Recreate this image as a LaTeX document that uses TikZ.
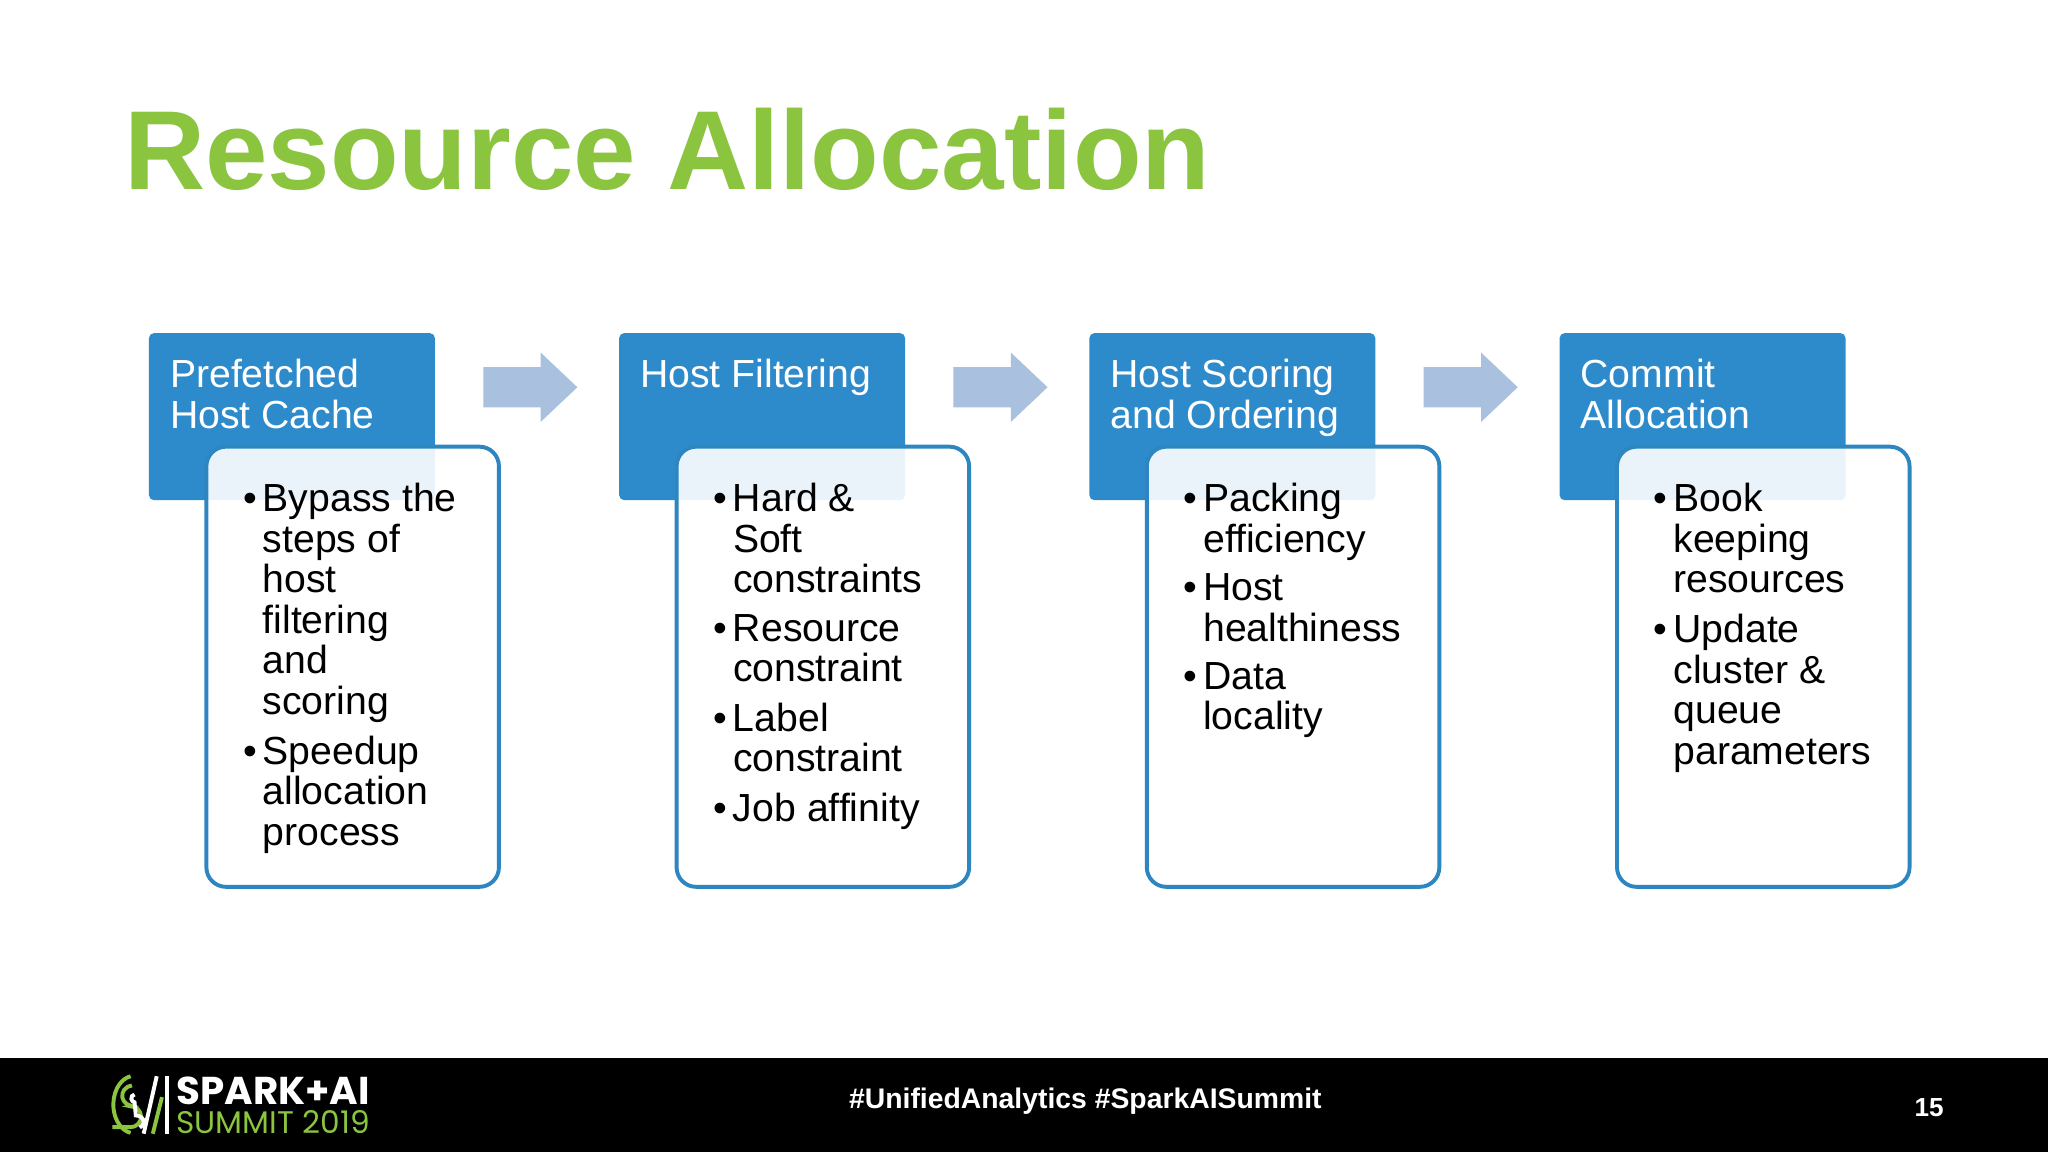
\documentclass[tikz,border=0pt]{standalone}
\usepackage{fontspec}
\setmainfont{Liberation Sans}
\newfontfamily\popp{Poppins}
\usetikzlibrary{shapes.arrows}
\definecolor{tgreen}{HTML}{8BC43F}
\definecolor{hblue}{HTML}{2E8BCB}
\definecolor{bblue}{HTML}{2E86C1}
\definecolor{ablue}{HTML}{A9C0DE}
\newcommand{\bitem}[1]{\makebox[15pt][l]{•}\parbox[t]{200pt}{#1\strut}\par\vspace{6pt}}
\begin{document}
\begin{tikzpicture}[x=1pt,y=1pt,
  hdr/.style={fill=hblue,rounded corners=4pt},
  wbox/.style={draw=bblue,line width=3pt,fill=white,fill opacity=0.9,rounded corners=15pt},
  htext/.style={anchor=base west,inner sep=0,text=white,font=\fontsize{30}{31}\selectfont},
  btext/.style={anchor=base west,inner sep=0,font=\fontsize{30}{31}\selectfont},
  barrow/.style={fill=ablue}]
\useasboundingbox (0,0) rectangle (1568,882);
\fill[white] (0,0) rectangle (1568,882);
\node[anchor=base west,inner sep=0,text=tgreen,font=\fontsize{86}{86}\selectfont\bfseries] (title) at (95,737) {Resource Allocation};
\foreach \i/\h/\b in {0/{Prefetched\\Host Cache}/{\bitem{Bypass the\\steps of\\host\\filtering\\and\\scoring}\bitem{Speedup\\allocation\\process}},
  1/{Host Filtering}/{\bitem{Hard \&\\Soft\\constraints}\bitem{Resource\\constraint}\bitem{Label\\constraint}\bitem{Job affinity}},
  2/{Host Scoring\\and Ordering}/{\bitem{Packing\\efficiency}\bitem{Host\\healthiness}\bitem{Data\\locality}},
  3/{Commit\\Allocation}/{\bitem{Book\\keeping\\resources}\bitem{Update\\cluster \&\\queue\\parameters}}}{
  \begin{scope}[xshift=\i*360]
  \fill[hdr] (114,499) rectangle (333,627);
  \node[htext] (h\i) at (130,585) {\parbox[t]{300pt}{\h}};
  \draw[wbox] (158,203) rectangle (382,540);
  \node[btext] (b\i) at (186,490) {\parbox[t]{230pt}{\b}};
  \end{scope}
}
\foreach \i in {0,1,2}{
  \begin{scope}[xshift=\i*360]
  \fill[barrow] (370,570) -- (414,570) -- (414,559) -- (442,585.5) -- (414,612) -- (414,601) -- (370,601) -- cycle;
  \end{scope}
}
% footer
\fill[black] (0,0) rectangle (1568,72);
\node[text=white,font=\fontsize{21.7}{22}\selectfont\bfseries] (tags) at (831,39) {\#UnifiedAnalytics \#SparkAISummit};
\node[text=white,font=\fontsize{20}{20}\selectfont\bfseries] (page) at (1477,34) {15};
\node[anchor=base west,inner sep=0,text=white] (spark) at (135,36) {\resizebox{148pt}{!}{\popp\bfseries SPARK+AI}};
\node[anchor=base west,inner sep=0,text=tgreen] (summit) at (135,14) {\resizebox{148pt}{!}{\popp SUMMIT 2019}};
\begin{scope}[line width=3pt]
\draw[tgreen] (100,58) arc (100:260:16 and 22);
\draw[tgreen] (101,51) arc (100:260:9 and 8) -- (100,35) arc (90:-90:8 and 8) -- (86,19);
\draw[white] (103,44) arc (100:260:3 and 3) -- (104,28) arc (90:-60:6 and 5);
\draw[white] (110,14) -- (120,58);
\draw[tgreen] (117,14) -- (124,42);
\draw[white] (128,58) -- (128,14);
\end{scope}
\end{tikzpicture}
\end{document}
